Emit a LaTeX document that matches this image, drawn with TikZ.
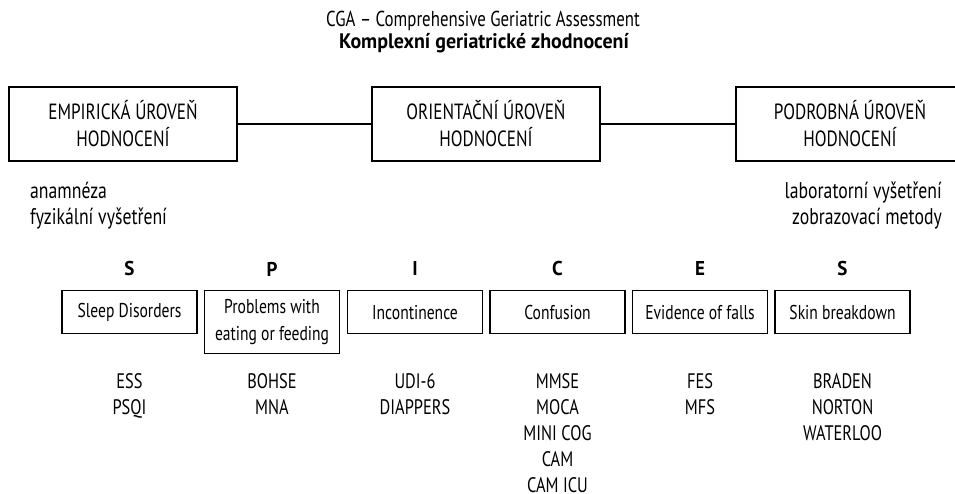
\documentclass[tikz,border=0pt]{standalone}
\usepackage{fontspec}
\setmainfont{PT Sans}[FakeStretch=0.78,BoldFeatures={FakeStretch=0.95}]
\begin{document}
\begin{tikzpicture}[x=1pt,y=-1pt,
  bigbox/.style={draw=black,line width=1.1pt,minimum width=228pt,minimum height=74pt,inner sep=0pt,align=center,font=\fontsize{22}{27}\selectfont},
  smallbox/.style={draw=black,line width=1.1pt,minimum width=135pt,inner sep=0pt,align=center,anchor=north,font=\fontsize{20}{27}\selectfont},
  letter/.style={font=\fontsize{20}{24}\selectfont\bfseries},
  item/.style={anchor=base,inner sep=0pt,font=\fontsize{21}{26}\selectfont},
  side/.style={inner sep=0pt,font=\fontsize{22.7}{26}\selectfont},
  link/.style={line width=1.1pt}]
\useasboundingbox (0,0) rectangle (955,494);
\node[font=\fontsize{21.6}{24}\selectfont] (t1) at (483,21) {CGA – Comprehensive Geriatric Assessment};
\node[font=\fontsize{21}{24}\selectfont\bfseries] (t2) at (484,43) {Komplexní geriatrické zhodnocení};
\node[bigbox] (b1) at (123,124) {EMPIRICKÁ ÚROVEŇ\\HODNOCENÍ};
\node[bigbox] (b2) at (486,124) {ORIENTAČNÍ ÚROVEŇ\\HODNOCENÍ};
\node[bigbox] (b3) at (850,124) {PODROBNÁ ÚROVEŇ\\HODNOCENÍ};
\draw[link] (b1.east) -- (b2.west);
\draw[link] (b2.east) -- (b3.west);
\node[side,anchor=base west] (a1) at (30,199) {anamnéza};
\node[side,anchor=base west] (a2) at (30,225) {fyzikální vyšetření};
\node[side,anchor=base east] (c1) at (942,199) {laboratorní vyšetření};
\node[side,anchor=base east] (c2) at (942,225) {zobrazovací metody};
\node[letter] (l1) at (129.5,269) {S};
\node[letter] (l2) at (272,269) {P};
\node[letter] (l3) at (415,269) {I};
\node[letter] (l4) at (557.5,269) {C};
\node[letter] (l5) at (700,269) {E};
\node[letter] (l6) at (842.5,269) {S};
\node[smallbox,minimum height=43pt] (s1) at (129.5,290) {Sleep Disorders};
\node[smallbox,minimum height=63pt] (s2) at (272,290) {Problems with\\eating or feeding};
\node[smallbox,minimum height=43pt] (s3) at (415,290) {Incontinence};
\node[smallbox,minimum height=43pt] (s4) at (557.5,290) {Confusion};
\node[smallbox,minimum height=43pt] (s5) at (700,290) {Evidence of falls};
\node[smallbox,minimum height=43pt] (s6) at (842.5,290) {Skin breakdown};
\node[item] (e11) at (129.5,388) {ESS};
\node[item] (e12) at (129.5,414) {PSQI};
\node[item] (e21) at (272,388) {BOHSE};
\node[item] (e22) at (272,414) {MNA};
\node[item] (e31) at (415,388) {UDI-6};
\node[item] (e32) at (415,414) {DIAPPERS};
\node[item] (e41) at (557.5,388) {MMSE};
\node[item] (e42) at (557.5,414) {MOCA};
\node[item] (e43) at (557.5,440) {MINI COG};
\node[item] (e44) at (557.5,466) {CAM};
\node[item] (e45) at (557.5,492) {CAM ICU};
\node[item] (e51) at (700,388) {FES};
\node[item] (e52) at (700,414) {MFS};
\node[item] (e61) at (842.5,388) {BRADEN};
\node[item] (e62) at (842.5,414) {NORTON};
\node[item] (e63) at (842.5,440) {WATERLOO};
\end{tikzpicture}
\end{document}
